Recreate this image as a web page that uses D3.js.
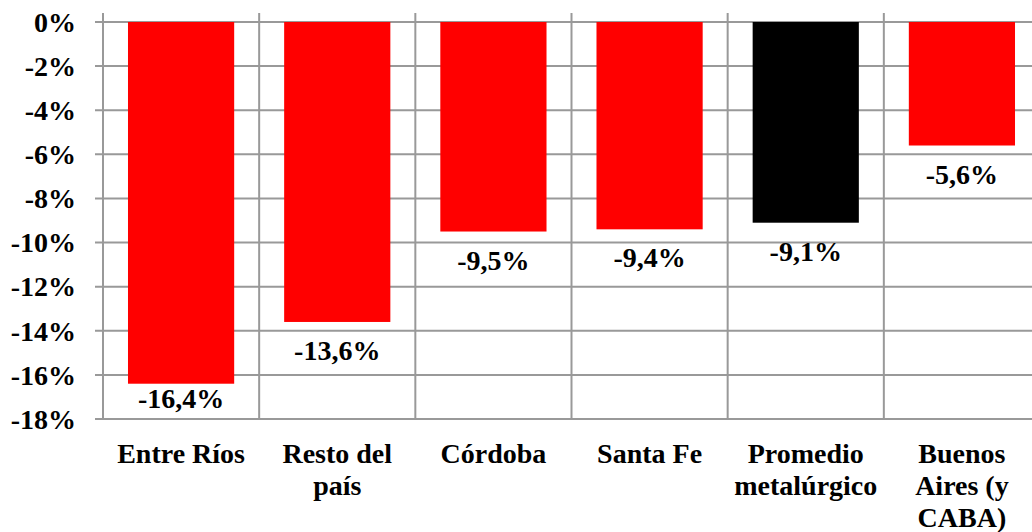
<!DOCTYPE html>
<html>
<head>
<meta charset="utf-8">
<script src="https://cdn.jsdelivr.net/npm/d3@7"></script>
<style>
  body { margin: 0; background: #fff; }
  text { font-family: "Liberation Serif", "Times New Roman", serif; font-weight: bold; fill: #000; }
</style>
</head>
<body>
<div id="chart"></div>
<script>
// data
var categories = ["Entre Ríos", "Resto del país", "Córdoba", "Santa Fe", "Promedio metalúrgico", "Buenos Aires (y CABA)"];
var values = [-16.4, -13.6, -9.5, -9.4, -9.1, -5.6];
var barColors = ["#ff0000", "#ff0000", "#ff0000", "#ff0000", "#000000", "#ff0000"];
var yTicks = [0, -2, -4, -6, -8, -10, -12, -14, -16, -18];

var width = 1032,
    height = 532;
// plot area (right edge runs past the window, as in the original)
var plotLeft = 103, plotRight = 1040, plotTop = 22, plotBottom = 419;
var grid = "#999999";

var svg = d3.select("#chart").append("svg")
  .attr("width", width)
  .attr("height", height);

var x = d3.scaleBand()
  .domain(categories)
  .range([plotLeft, plotRight])
  .padding(0);

var y = d3.scaleLinear()
  .domain([0, -18])
  .range([plotTop, plotBottom]);

var barW = x.bandwidth() * 0.68;

// horizontal grid lines + left ticks
svg.append("g").selectAll("line")
  .data(yTicks)
  .enter().append("line")
  .attr("x1", plotLeft - 8)
  .attr("x2", plotRight)
  .attr("y1", function(d){ return y(d); })
  .attr("y2", function(d){ return y(d); })
  .attr("stroke", grid)
  .attr("stroke-width", 2);

// vertical category separators (with small ticks above zero)
var seps = categories.map(function(c){ return x(c); });
seps.push(plotRight);
svg.append("g").selectAll("line")
  .data(seps)
  .enter().append("line")
  .attr("x1", function(d){ return d; })
  .attr("x2", function(d){ return d; })
  .attr("y1", plotTop - 9)
  .attr("y2", plotBottom)
  .attr("stroke", grid)
  .attr("stroke-width", 2);

// y labels
svg.append("g").selectAll("text")
  .data(yTicks)
  .enter().append("text")
  .attr("x", 76)
  .attr("y", function(d){ return y(d); })
  .attr("dy", "0.35em")
  .attr("text-anchor", "end")
  .style("font-size", "28px")
  .text(function(d){ return d + "%"; });

// bars
svg.append("g").selectAll("rect")
  .data(values)
  .enter().append("rect")
  .attr("x", function(d, i){ return x(categories[i]) + (x.bandwidth() - barW) / 2; })
  .attr("y", y(0))
  .attr("width", barW)
  .attr("height", function(d){ return y(d) - y(0); })
  .attr("fill", function(d, i){ return barColors[i]; });

// value labels
svg.append("g").selectAll("text")
  .data(values)
  .enter().append("text")
  .attr("x", function(d, i){ return x(categories[i]) + x.bandwidth() / 2; })
  .attr("y", function(d){ return Math.min(y(d) + 38, plotBottom - 11); })
  .attr("text-anchor", "middle")
  .style("font-size", "28px")
  .text(function(d){ return String(d).replace(".", ",") + "%"; });

// category labels, wrapped
var cat = svg.append("g").selectAll("text")
  .data(categories)
  .enter().append("text")
  .attr("x", function(d){ return x(d) + x.bandwidth() / 2; })
  .attr("y", plotBottom + 44)
  .attr("text-anchor", "middle")
  .style("font-size", "28px");

cat.each(function(d){
  var t = d3.select(this), words = d.split(" "), line = [];
  var cx = t.attr("x");
  var ts = t.append("tspan").attr("x", cx).attr("dy", 0);
  words.forEach(function(w){
    line.push(w);
    ts.text(line.join(" "));
    if (ts.node().getComputedTextLength() > 150 && line.length > 1) {
      line.pop();
      ts.text(line.join(" "));
      line = [w];
      ts = t.append("tspan").attr("x", cx).attr("dy", 32).text(w);
    }
  });
});
</script>
</body>
</html>
